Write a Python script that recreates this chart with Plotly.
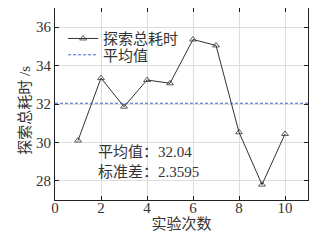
import plotly.graph_objects as go

trials = [1, 2, 3, 4, 5, 6, 7, 8, 9, 10]
times = [30.1, 33.35, 31.86, 33.25, 33.08, 35.36, 35.05, 30.53, 27.8, 30.44]
mean_val = 32.04
std_val = 2.3595
x_ticks = [0, 2, 4, 6, 8, 10]
y_ticks = [28, 30, 32, 34, 36]
x_title = "实验次数"
y_title = "探索总耗时 /s"

serif = "Liberation Serif"
cjk = "Liberation Serif, Noto Sans CJK SC"

fig = go.Figure()
fig.add_trace(go.Scatter(
    x=trials, y=times, mode="lines+markers", name="探索总耗时", legend="legend",
    line=dict(color="#333333", width=1),
    marker=dict(symbol="triangle-up-open", size=6, color="#333333", line=dict(width=0.8)),
))
fig.add_trace(go.Scatter(
    x=[0, 11], y=[mean_val, mean_val], mode="lines", name="平均值", legend="legend2",
    line=dict(color="#3f66cc", width=1, dash="3px,2px"),
))

fig.add_annotation(
    x=1.78, y=29.0, xref="x", yref="y", xanchor="left", yanchor="middle",
    text=f"平均值：{mean_val}<br>标准差：{std_val}", showarrow=False, align="left",
    font=dict(family=cjk, size=15, color="#333333"),
)
fig.add_annotation(
    x=-0.119, y=0.47, xref="paper", yref="paper", xanchor="center", yanchor="middle",
    text=y_title, textangle=-90, showarrow=False,
    font=dict(family=cjk, size=15, color="#333333"),
)

axis_common = dict(
    showgrid=True, gridcolor="#dddddd", gridwidth=1,
    showline=True, linecolor="#222222", linewidth=1, mirror="ticks",
    ticks="inside", ticklen=4, tickcolor="#222222",
    tickfont=dict(family=serif, size=15, color="#333333"),
    zeroline=False, automargin=False,
)

leg_common = dict(xanchor="left", yanchor="middle", bgcolor="rgba(0,0,0,0)",
                  font=dict(family=cjk, size=15, color="#333333"), itemwidth=30)

fig.update_layout(
    width=336, height=241,
    margin=dict(l=47, r=36, t=0, b=49, autoexpand=False),
    paper_bgcolor="white", plot_bgcolor="white",
    showlegend=True,
    legend=dict(x=0.032, y=0.84, **leg_common),
    legend2=dict(x=0.032, y=0.755, **leg_common),
    xaxis=dict(range=[0, 11], tickvals=x_ticks, ticklabelstandoff=-6,
               title=dict(text=x_title, font=dict(family=cjk, size=15, color="#333333"), standoff=0),
               **axis_common),
    yaxis=dict(range=[27, 37], tickvals=y_ticks, **axis_common),
)

fig.write_html("out.html")
